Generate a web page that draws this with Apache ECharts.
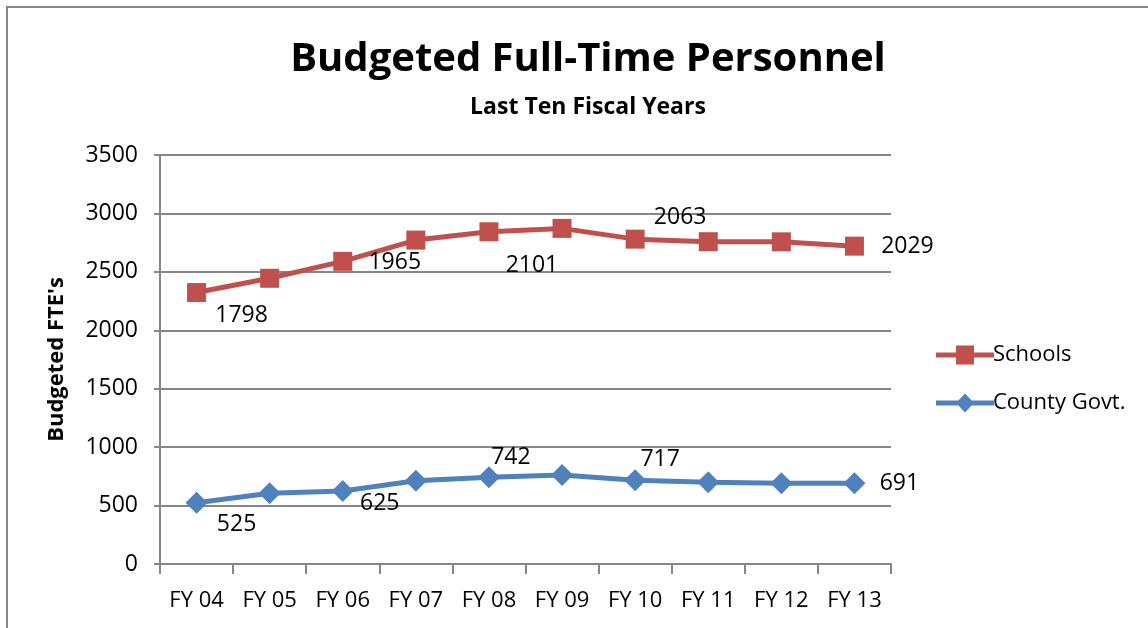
<!DOCTYPE html>
<html>
<head>
<meta charset="utf-8">
<script src="https://cdn.jsdelivr.net/npm/echarts@6/dist/echarts.min.js"></script>
<style>
  html, body { margin: 0; padding: 0; background: #fff; }
  #chart { width: 1148px; height: 628px; }
</style>
</head>
<body>
<div id="chart"></div>
<script>
// fiscal years on the x axis
var years = ['FY 04', 'FY 05', 'FY 06', 'FY 07', 'FY 08', 'FY 09', 'FY 10', 'FY 11', 'FY 12', 'FY 13'];
// FTE counts (schools are stacked on top of county)
var countyGovt = [525, 605, 625, 713, 742, 762, 717, 699, 692, 691];
var schools = [1798, 1840, 1965, 2059, 2101, 2110, 2063, 2059, 2065, 2029];
var yTicks = [0, 500, 1000, 1500, 2000, 2500, 3000, 3500];

// which points get a value label, and where it sits relative to the marker
var schoolLabels = { 0: [45, 23], 2: [52, 1], 4: [43, 34], 6: [45, -22], 9: [53, 0] };
var countyLabels = { 0: [40, 22], 2: [37, 12], 4: [22, -20], 6: [25, -21], 9: [45, 0] };

function withLabels(values, placement) {
  return values.map(function (v, i) {
    if (!placement[i]) return v;
    return {
      value: v,
      label: { show: true, position: 'inside', offset: placement[i] }
    };
  });
}

// legend icons: thick line with the series marker in the middle
var squareIcon = 'path://M0,7L58,7L58,12L0,12Z M20,0L38,0L38,19L20,19Z';
var diamondIcon = 'path://M0,7L58,7L58,12L0,12Z M29,0L38,9.5L29,19L20,9.5Z';

var labelFont = { fontFamily: 'Open Sans', fontSize: 23, color: '#000' };

var chart = echarts.init(document.getElementById('chart'));
chart.setOption({
  animation: false,
  textStyle: { fontFamily: 'Open Sans' },
  title: [{
    text: 'Budgeted Full-Time Personnel',
    left: 583, top: 35, textAlign: 'center',
    textStyle: { fontFamily: 'Open Sans', fontSize: 40, fontWeight: 'bold', color: '#000' }
  }, {
    text: 'Last Ten Fiscal Years',
    left: 583, top: 91, textAlign: 'center',
    textStyle: { fontFamily: 'Open Sans', fontSize: 23, fontWeight: 'bold', color: '#000' }
  }],
  graphic: [{
    type: 'rect', silent: true,
    shape: { x: 7, y: 7, width: 1160, height: 650 },
    style: { fill: null, stroke: '#868686', lineWidth: 2 }
  }],
  legend: {
    orient: 'vertical',
    left: 931, top: 339,
    itemWidth: 58, itemHeight: 19, itemGap: 26,
    data: [
      { name: 'Schools', icon: squareIcon },
      { name: 'County Govt.', icon: diamondIcon }
    ],
    textStyle: { fontFamily: 'Open Sans', fontSize: 22, color: '#000', padding: [0, 0, 0, -6] }
  },
  grid: { left: 160, right: 257, top: 155, bottom: 64 },
  xAxis: {
    type: 'category',
    data: years,
    boundaryGap: true,
    axisLine: { lineStyle: { color: '#868686', width: 2 } },
    axisTick: { show: true, interval: 0, length: 10, inside: false, lineStyle: { color: '#868686', width: 2 } },
    axisLabel: { interval: 0, fontFamily: 'Open Sans', fontSize: 22, color: '#000', margin: 26 }
  },
  yAxis: {
    type: 'value',
    min: yTicks[0], max: yTicks[yTicks.length - 1], interval: 500,
    name: "Budgeted FTE's",
    nameLocation: 'middle',
    nameGap: 92,
    nameTextStyle: { fontFamily: 'Open Sans', fontSize: 22, fontWeight: 'bold', color: '#000' },
    axisLine: { show: true, lineStyle: { color: '#868686', width: 2 } },
    axisTick: { show: true, length: 6, lineStyle: { color: '#868686', width: 2 } },
    axisLabel: {
      fontFamily: 'Open Sans', fontSize: 23, color: '#000', margin: 22,
      formatter: function (v) { return String(v); }
    },
    splitLine: { lineStyle: { color: '#868686', width: 2 } }
  },
  series: [{
    name: 'County Govt.',
    type: 'line',
    stack: 'total',
    data: withLabels(countyGovt, countyLabels),
    symbol: 'diamond', symbolSize: 22,
    lineStyle: { color: '#4F81BD', width: 5 },
    itemStyle: { color: '#4F81BD' },
    label: labelFont
  }, {
    name: 'Schools',
    type: 'line',
    stack: 'total',
    data: withLabels(schools, schoolLabels),
    symbol: 'rect', symbolSize: 19,
    lineStyle: { color: '#C0504D', width: 5 },
    itemStyle: { color: '#C0504D' },
    label: labelFont
  }]
});
</script>
</body>
</html>
